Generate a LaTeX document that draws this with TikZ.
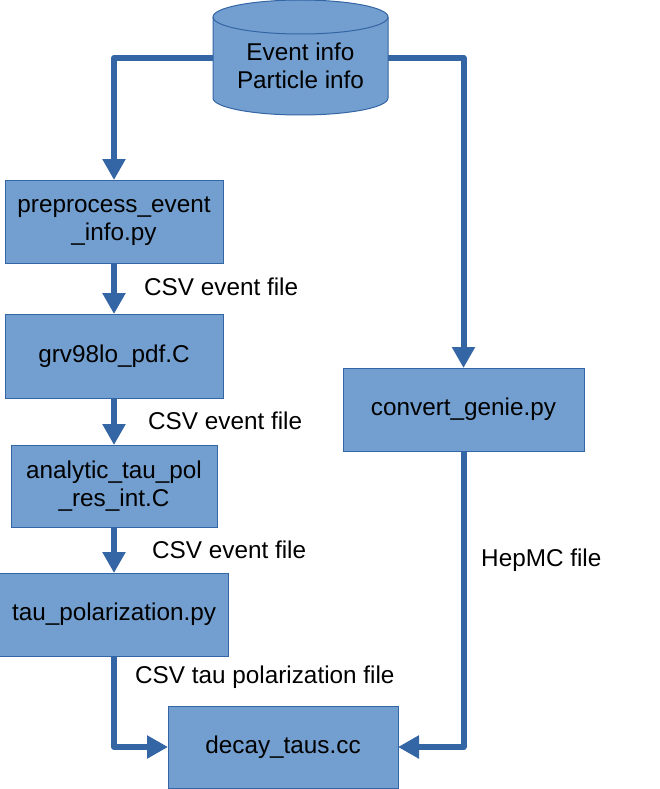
\documentclass[tikz,border=0pt]{standalone}
\usepackage{fontspec}
\setmainfont{Liberation Sans}
\usetikzlibrary{arrows.meta}
\definecolor{boxfill}{HTML}{729FCF}
\definecolor{boxline}{HTML}{3465A4}
\begin{document}
\begin{tikzpicture}[x=1pt,y=-1pt,
	font=\fontsize{24.3}{27.8}\selectfont,
	box/.style={draw=boxline,fill=boxfill,line width=1pt,inner sep=0,outer sep=0,align=center},
	flow/.style={draw=boxline,line width=6pt,line join=round,-{Triangle[width=22pt,length=21pt]}},
	flowlabel/.style={anchor=west,inner sep=0}]
	\useasboundingbox (0,0) rectangle (660,789);
	\node[inner sep=0,outer sep=0,minimum width=175pt,minimum height=98pt] (db) at (300.5,66) {};
	\filldraw[draw=boxline,fill=boxfill,line width=1pt] (db.north west) -- ([yshift=17pt]db.south west) arc[start angle=180,end angle=360,x radius=87.5pt,y radius=17pt] -- (db.north east) arc[start angle=0,end angle=180,x radius=87.5pt,y radius=17pt] -- cycle;
	\draw[draw=boxline,line width=1pt] (db.north west) arc[start angle=180,end angle=360,x radius=87.5pt,y radius=17pt];
	\node[align=center,inner sep=0] (dbtext) at (db.center) {Event info\\Particle info};
	\node[box,minimum width=218pt,minimum height=83pt] (pre) at (114,221.5) {preprocess\_event\\\_info.py};
	\node[box,minimum width=218pt,minimum height=84pt] (grv) at (114,356) {grv98lo\_pdf.C};
	\node[box,minimum width=206pt,minimum height=82pt] (ana) at (114,486) {analytic\_tau\_pol\\\_res\_int.C};
	\node[box,minimum width=229pt,minimum height=83pt] (tau) at (114,614.5) {tau\_polarization.py};
	\node[box,minimum width=241pt,minimum height=83pt] (conv) at (463.5,409.5) {convert\_genie.py};
	\node[box,minimum width=230pt,minimum height=82pt] (dec) at (283,747) {decay\_taus.cc};
	\draw[flow] ([yshift=8pt]db.west) -| (pre.north);
	\draw[flow] ([yshift=8pt]db.east) -| (conv.north);
	\draw[flow] (pre.south) -- (grv.north);
	\draw[flow] (grv.south) -- (ana.north);
	\draw[flow] (ana.south) -- (tau.north);
	\draw[flow] (tau.south) |- (dec.west);
	\draw[flow] (conv.south) |- (dec.east);
	\node[flowlabel] (l1) at (144,287) {CSV event file};
	\node[flowlabel] (l2) at (148,421) {CSV event file};
	\node[flowlabel] (l3) at (152,550) {CSV event file};
	\node[flowlabel] (l4) at (135,677) {CSV tau polarization file};
	\node[flowlabel] (l5) at (481,560) {HepMC file};
\end{tikzpicture}
\end{document}
